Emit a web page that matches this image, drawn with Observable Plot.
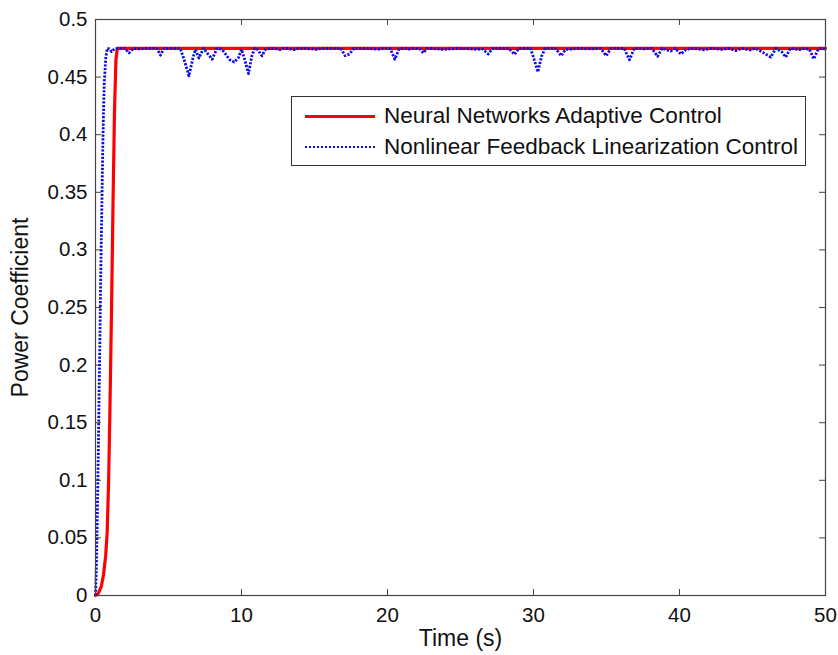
<!DOCTYPE html>
<html>
<head>
<meta charset="utf-8">
<script src="https://cdn.jsdelivr.net/npm/d3@7"></script>
<script src="https://cdn.jsdelivr.net/npm/@observablehq/plot@0.6"></script>
<style>
  html, body { margin: 0; padding: 0; background: #fff; }
  #wrap { position: relative; width: 838px; height: 655px; font-family: "Liberation Sans", Arial, sans-serif; }
  #legend { position: absolute; left: 291px; top: 96px; width: 515px; height: 70px; box-sizing: border-box;
            border: 1px solid #333; background: #fff; font-size: 22.5px; color: #111; }
  .row { position: absolute; left: 0; height: 26px; }
  .sw { position: absolute; left: 13px; width: 70px; height: 0; }
  .lbl { position: absolute; left: 92px; white-space: nowrap; line-height: 26px; }
</style>
</head>
<body>
<div id="wrap"></div>
<script>
// ---- data ----
const seriesNames = ["Neural Networks Adaptive Control", "Nonlinear Feedback Linearization Control"];
const xLabel = "Time (s)";
const yLabel = "Power Coefficient";
const xTicks = [0, 10, 20, 30, 40, 50];
const yTicks = [0, 0.05, 0.1, 0.15, 0.2, 0.25, 0.3, 0.35, 0.4, 0.45, 0.5];
const yTickLabels = ["0", "0.05", "0.1", "0.15", "0.2", "0.25", "0.3", "0.35", "0.4", "0.45", "0.5"];

const redT = [0, 0.2, 0.4, 0.55, 0.7, 0.8, 0.9, 1.0, 1.1, 1.2, 1.3, 1.4, 1.5, 50];
const redV = [0, 0.002, 0.008, 0.018, 0.035, 0.055, 0.1, 0.17, 0.25, 0.34, 0.42, 0.465, 0.475, 0.475];

const blueT = [0, 0.05, 0.1, 0.15, 0.2, 0.25, 0.3, 0.35, 0.4, 0.45, 0.5, 0.55, 0.6, 0.7, 0.8, 0.95, 1.1, 1.3, 1.6,
  2.0, 2.3, 2.6, 3.0, 3.5, 4.2, 4.45, 4.7, 5.3, 5.8, 6.05, 6.4, 6.7, 6.85, 7.08, 7.4, 7.7, 8.0, 8.3, 8.5, 8.8,
  9.02, 9.2, 9.5, 9.8, 10.0, 10.2, 10.48, 10.7, 10.9, 11.1, 11.4, 11.65, 12.0, 12.4, 12.65, 12.9, 13.3, 13.6, 13.9,
  14.4, 14.8, 15.15, 15.5, 16.2, 16.8, 17.1, 17.4, 17.7, 18.5, 19.0, 19.4, 19.8, 20.2, 20.5, 20.8, 21.2, 21.5, 21.8,
  22.2, 22.45, 22.7, 23.4, 23.8, 24.3, 24.8, 25.7, 26.1, 26.5, 26.9, 27.2, 28.3, 28.7, 29.0, 29.8, 30.05, 30.3, 30.55,
  30.8, 31.5, 31.9, 32.2, 32.6, 33.0, 34.1, 34.6, 34.98, 35.3, 36.2, 36.58, 36.9, 37.6, 38.1, 38.5, 38.8, 39.4, 39.7,
  40.1, 40.4, 40.8, 41.7, 42.2, 42.9, 43.4, 43.86, 44.3, 44.8, 45.2, 45.7, 46.25, 46.6, 47.0, 47.28, 47.6, 48.2, 48.6,
  48.9, 49.2, 49.5, 49.8, 50];
const blueV = [0, 0.02, 0.05, 0.09, 0.13, 0.18, 0.22, 0.27, 0.31, 0.35, 0.39, 0.42, 0.445, 0.466, 0.475, 0.4745, 0.472, 0.4745, 0.475,
  0.475, 0.471, 0.475, 0.4745, 0.475, 0.475, 0.469, 0.475, 0.475, 0.475, 0.466, 0.451, 0.468, 0.474, 0.4665, 0.475, 0.470, 0.4655, 0.4745, 0.475, 0.472,
  0.468, 0.465, 0.463, 0.467, 0.474, 0.466, 0.453, 0.468, 0.475, 0.474, 0.4685, 0.474, 0.475, 0.4745, 0.4738, 0.475, 0.4745, 0.4738, 0.475,
  0.4748, 0.4745, 0.474, 0.475, 0.475, 0.475, 0.4685, 0.470, 0.475, 0.475, 0.4745, 0.4742, 0.475, 0.4745, 0.4655, 0.4745, 0.475, 0.4743, 0.475,
  0.4745, 0.471, 0.475, 0.4745, 0.474, 0.4745, 0.475, 0.4745, 0.474, 0.4745, 0.470, 0.475, 0.475, 0.4697, 0.475, 0.475, 0.465, 0.4545, 0.468,
  0.475, 0.475, 0.4685, 0.474, 0.4743, 0.475, 0.4745, 0.475, 0.4685, 0.475, 0.475, 0.465, 0.475, 0.4745, 0.475, 0.468, 0.475, 0.4725, 0.475,
  0.470, 0.4735, 0.475, 0.4737, 0.475, 0.474, 0.475, 0.473, 0.475, 0.4735, 0.475, 0.4715, 0.4673, 0.475, 0.472, 0.4673, 0.475, 0.4738, 0.475,
  0.474, 0.4658, 0.4745, 0.475, 0.474];

// ---- build tables ----
const red = redT.map((t, i) => ({t, v: redV[i]}));
const blue = blueT.map((t, i) => ({t, v: blueV[i]}));
const redColor = "#ff0000";
const blueColor = "#0c0ce0";

const chart = Plot.plot({
  width: 838, height: 655,
  marginLeft: 95, marginRight: 13, marginTop: 19, marginBottom: 60,
  x: {domain: [0, 50]},
  y: {domain: [0, 0.5]},
  style: {fontFamily: "'Liberation Sans', Arial, sans-serif", fontSize: "20px", color: "#111", background: "#fff", overflow: "visible"},
  marks: [
    Plot.axisX(xTicks, {tickSize: 0, tickPadding: 12, tickFormat: d => String(d), fontSize: 20.5, label: null}),
    Plot.axisY(yTicks, {tickSize: 0, tickPadding: 8, tickFormat: (d, i) => yTickLabels[i], fontSize: 20.5, label: null}),
    Plot.text([xLabel], {frameAnchor: "bottom", dy: 43, text: d => d, fontSize: 23, textAnchor: "middle", lineAnchor: "middle", fill: "#111"}),
    Plot.text([yLabel], {frameAnchor: "left", dx: -75, text: d => d, fontSize: 23, rotate: -90, textAnchor: "middle", lineAnchor: "middle", fill: "#111"}),
    // inward ticks (MATLAB style)
    Plot.ruleX(xTicks, {x: d => d, y1: 0, y2: 0.0052, stroke: "#444", strokeWidth: 1}),
    Plot.ruleX(xTicks, {x: d => d, y1: 0.4948, y2: 0.5, stroke: "#444", strokeWidth: 1}),
    Plot.ruleY(yTicks, {y: d => d, x1: 0, x2: 0.41, stroke: "#444", strokeWidth: 1}),
    Plot.ruleY(yTicks, {y: d => d, x1: 49.59, x2: 50, stroke: "#444", strokeWidth: 1}),
    Plot.line(red, {x: "t", y: "v", stroke: redColor, strokeWidth: 3.2}),
    Plot.line(blue, {x: "t", y: "v", stroke: blueColor, strokeWidth: 2.8, strokeDasharray: "2.2,1.5", strokeLinecap: "butt"}),
    Plot.frame({stroke: "#444", strokeWidth: 1.2})
  ]
});

const wrap = document.getElementById("wrap");
wrap.appendChild(chart);

// legend
const legend = document.createElement("div");
legend.id = "legend";
const styles = [
  `border-top: 3.2px solid ${redColor};`,
  `border-top: 2.8px dotted ${blueColor};`
];
const tops = [6, 37];
seriesNames.forEach((name, i) => {
  const row = document.createElement("div");
  row.className = "row";
  row.style.top = tops[i] + "px";
  row.style.width = "100%";
  const sw = document.createElement("div");
  sw.className = "sw";
  sw.style.cssText = styles[i] + "top: 12px;";
  const lbl = document.createElement("div");
  lbl.className = "lbl";
  lbl.textContent = name;
  row.appendChild(sw);
  row.appendChild(lbl);
  legend.appendChild(row);
});
wrap.appendChild(legend);
</script>
</body>
</html>
